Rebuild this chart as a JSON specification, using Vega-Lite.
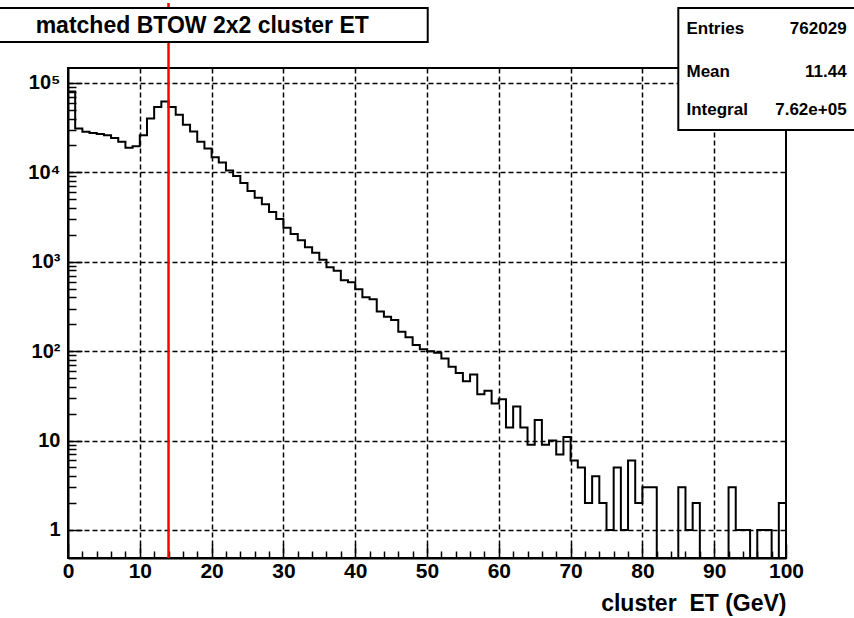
{
  "$schema": "https://vega.github.io/schema/vega-lite/v6.json",
  "width": 718,
  "height": 490,
  "autosize": {"type": "none"},
  "padding": {"left": 68, "top": 68, "right": 68, "bottom": 60},
  "background": "white",
  "config": {
    "view": {"stroke": "black", "strokeWidth": 2},
    "font": "Liberation Sans"
  },
  "datasets": {
    "hist": [
      {"et": 0, "n": 80000}, {"et": 1, "n": 31000}, {"et": 2, "n": 28500}, {"et": 3, "n": 27500}, {"et": 4, "n": 26800},
      {"et": 5, "n": 26000}, {"et": 6, "n": 24200}, {"et": 7, "n": 22000}, {"et": 8, "n": 18800}, {"et": 9, "n": 19600},
      {"et": 10, "n": 26000}, {"et": 11, "n": 40000}, {"et": 12, "n": 54000}, {"et": 13, "n": 62000}, {"et": 14, "n": 54000},
      {"et": 15, "n": 44000}, {"et": 16, "n": 34000}, {"et": 17, "n": 28600}, {"et": 18, "n": 22000}, {"et": 19, "n": 18500},
      {"et": 20, "n": 14800}, {"et": 21, "n": 12900}, {"et": 22, "n": 10500}, {"et": 23, "n": 9100}, {"et": 24, "n": 7600},
      {"et": 25, "n": 6200}, {"et": 26, "n": 5200}, {"et": 27, "n": 4400}, {"et": 28, "n": 3600}, {"et": 29, "n": 3000},
      {"et": 30, "n": 2400}, {"et": 31, "n": 2050}, {"et": 32, "n": 1740}, {"et": 33, "n": 1450}, {"et": 34, "n": 1260},
      {"et": 35, "n": 1050}, {"et": 36, "n": 870}, {"et": 37, "n": 796}, {"et": 38, "n": 620}, {"et": 39, "n": 590},
      {"et": 40, "n": 492}, {"et": 41, "n": 400}, {"et": 42, "n": 380}, {"et": 43, "n": 277}, {"et": 44, "n": 243},
      {"et": 45, "n": 223}, {"et": 46, "n": 165}, {"et": 47, "n": 143}, {"et": 48, "n": 117}, {"et": 49, "n": 105},
      {"et": 50, "n": 100}, {"et": 51, "n": 96}, {"et": 52, "n": 83}, {"et": 53, "n": 67}, {"et": 54, "n": 57},
      {"et": 55, "n": 46}, {"et": 56, "n": 55}, {"et": 57, "n": 33}, {"et": 58, "n": 36}, {"et": 59, "n": 26},
      {"et": 60, "n": 29}, {"et": 61, "n": 14}, {"et": 62, "n": 24}, {"et": 63, "n": 14}, {"et": 64, "n": 9},
      {"et": 65, "n": 17}, {"et": 66, "n": 9}, {"et": 67, "n": 10}, {"et": 68, "n": 7}, {"et": 69, "n": 11},
      {"et": 70, "n": 6}, {"et": 71, "n": 5}, {"et": 72, "n": 2}, {"et": 73, "n": 4}, {"et": 74, "n": 2},
      {"et": 75, "n": 1}, {"et": 76, "n": 5}, {"et": 77, "n": 1}, {"et": 78, "n": 6}, {"et": 79, "n": 2},
      {"et": 80, "n": 3}, {"et": 81, "n": 3}, {"et": 82, "n": 0}, {"et": 83, "n": 0}, {"et": 84, "n": 0},
      {"et": 85, "n": 3}, {"et": 86, "n": 1}, {"et": 87, "n": 2}, {"et": 88, "n": 0}, {"et": 89, "n": 0},
      {"et": 90, "n": 0}, {"et": 91, "n": 0}, {"et": 92, "n": 3}, {"et": 93, "n": 1}, {"et": 94, "n": 1},
      {"et": 95, "n": 0}, {"et": 96, "n": 1}, {"et": 97, "n": 1}, {"et": 98, "n": 0}, {"et": 99, "n": 2},
      {"et": 100, "n": 2}
    ],
    "one": [{}]
  },
  "layer": [
    {
      "data": {"name": "hist"},
      "mark": {"type": "line", "interpolate": "step-after", "color": "black", "strokeWidth": 2, "invalid": null},
      "encoding": {
        "x": {
          "field": "et", "type": "quantitative",
          "scale": {"domain": [0, 100], "nice": false, "zero": false},
          "axis": {
            "values": [0,2,4,6,8,10,12,14,16,18,20,22,24,26,28,30,32,34,36,38,40,42,44,46,48,50,52,54,56,58,60,62,64,66,68,70,72,74,76,78,80,82,84,86,88,90,92,94,96,98,100],
            "tickCount": 200,
            "format": "d",
            "labelExpr": "datum.value % 10 == 0 ? datum.label : ''",
            "labelFlush": false,
            "labelOverlap": false,
            "labelFont": "Liberation Sans",
            "labelFontWeight": "bold",
            "labelFontSize": 21,
            "labelColor": "black",
            "labelPadding": 16,
            "tickSize": {"condition": {"test": "datum.value % 10 == 0", "value": -14}, "value": -7},
            "tickColor": "black",
            "tickWidth": 1.5,
            "domainColor": "black",
            "domainWidth": 2,
            "grid": true,
            "gridColor": "black",
            "gridDash": [5, 3],
            "gridWidth": 1.5,
            "gridOpacity": {"condition": {"test": "datum.value % 10 == 0 && datum.value > 0 && datum.value < 100", "value": 1}, "value": 0},
            "title": "cluster\u00a0\u00a0ET (GeV)",
            "titleAnchor": "end",
            "titleFont": "Liberation Sans",
            "titleFontWeight": "bold",
            "titleFontSize": 23,
            "titleColor": "black",
            "titlePadding": 4
          }
        },
        "y": {
          "field": "n", "type": "quantitative",
          "scale": {"type": "log", "domain": [0.486, 147000], "nice": false, "clamp": true},
          "axis": {
            "values": [1,2,3,4,5,6,7,8,9,10,20,30,40,50,60,70,80,90,100,200,300,400,500,600,700,800,900,1000,2000,3000,4000,5000,6000,7000,8000,9000,10000,20000,30000,40000,50000,60000,70000,80000,90000,100000],
            "tickCount": 200,
            "labelExpr": "datum.value == 1 ? '1' : datum.value == 10 ? '10' : datum.value == 100 ? '10²' : datum.value == 1000 ? '10³' : datum.value == 10000 ? '10⁴' : datum.value == 100000 ? '10⁵' : ''",
            "labelFlush": false,
            "labelOverlap": false,
            "labelFont": "Liberation Sans",
            "labelFontWeight": "bold",
            "labelFontSize": 20,
            "labelColor": "black",
            "labelPadding": 22,
            "tickSize": {"condition": {"test": "indexof([1,10,100,1000,10000,100000], datum.value) >= 0", "value": -14}, "value": -8},
            "tickColor": "black",
            "tickWidth": 1.5,
            "domainColor": "black",
            "domainWidth": 2,
            "grid": true,
            "gridColor": "black",
            "gridDash": [5, 3],
            "gridWidth": 1.5,
            "gridOpacity": {"condition": {"test": "indexof([1,10,100,1000,10000,100000], datum.value) >= 0", "value": 1}, "value": 0},
            "title": null
          }
        }
      }
    },
    {
      "data": {"name": "one"},
      "layer": [
        {
          "mark": {"type": "rule", "color": "#ff0000", "strokeWidth": 2.5},
          "encoding": {
            "x": {"datum": 14, "type": "quantitative"},
            "y": {"datum": 785000, "type": "quantitative", "scale": {"type": "log", "domain": [0.486, 147000], "nice": false}, "axis": null},
            "y2": {"datum": 0.486}
          }
        },
        {
          "mark": {"type": "rect", "fill": "white", "stroke": "black", "strokeWidth": 2},
          "encoding": {
            "x": {"datum": -9.75, "type": "quantitative"},
            "x2": {"datum": 50.1},
            "y": {"datum": 690000, "type": "quantitative"},
            "y2": {"datum": 288000}
          }
        },
        {
          "mark": {"type": "text", "font": "Liberation Sans", "fontWeight": "bold", "fontSize": 23, "align": "center", "baseline": "middle", "color": "black"},
          "encoding": {
            "x": {"datum": 18.7, "type": "quantitative"},
            "y": {"datum": 430000, "type": "quantitative"},
            "text": {"value": "matched BTOW 2x2 cluster ET"}
          }
        },
        {
          "mark": {"type": "rect", "fill": "white", "stroke": "black", "strokeWidth": 2},
          "encoding": {
            "x": {"datum": 85.0, "type": "quantitative"},
            "x2": {"datum": 110},
            "y": {"datum": 690000, "type": "quantitative"},
            "y2": {"datum": 29800}
          }
        },
        {
          "mark": {"type": "text", "font": "Liberation Sans", "fontWeight": "bold", "fontSize": 17, "align": "left", "baseline": "middle", "color": "black"},
          "encoding": {"x": {"datum": 86.14, "type": "quantitative"}, "y": {"datum": 402000, "type": "quantitative"}, "text": {"value": "Entries"}}
        },
        {
          "mark": {"type": "text", "font": "Liberation Sans", "fontWeight": "bold", "fontSize": 17, "align": "right", "baseline": "middle", "color": "black"},
          "encoding": {"x": {"datum": 108.44, "type": "quantitative"}, "y": {"datum": 402000, "type": "quantitative"}, "text": {"value": "762029"}}
        },
        {
          "mark": {"type": "text", "font": "Liberation Sans", "fontWeight": "bold", "fontSize": 17, "align": "left", "baseline": "middle", "color": "black"},
          "encoding": {"x": {"datum": 86.14, "type": "quantitative"}, "y": {"datum": 131000, "type": "quantitative"}, "text": {"value": "Mean"}}
        },
        {
          "mark": {"type": "text", "font": "Liberation Sans", "fontWeight": "bold", "fontSize": 17, "align": "right", "baseline": "middle", "color": "black"},
          "encoding": {"x": {"datum": 108.44, "type": "quantitative"}, "y": {"datum": 131000, "type": "quantitative"}, "text": {"value": "11.44"}}
        },
        {
          "mark": {"type": "text", "font": "Liberation Sans", "fontWeight": "bold", "fontSize": 17, "align": "left", "baseline": "middle", "color": "black"},
          "encoding": {"x": {"datum": 86.14, "type": "quantitative"}, "y": {"datum": 49900, "type": "quantitative"}, "text": {"value": "Integral"}}
        },
        {
          "mark": {"type": "text", "font": "Liberation Sans", "fontWeight": "bold", "fontSize": 17, "align": "right", "baseline": "middle", "color": "black"},
          "encoding": {"x": {"datum": 108.44, "type": "quantitative"}, "y": {"datum": 49900, "type": "quantitative"}, "text": {"value": "7.62e+05"}}
        }
      ]
    }
  ],
  "resolve": {"scale": {"y": "independent"}}
}
